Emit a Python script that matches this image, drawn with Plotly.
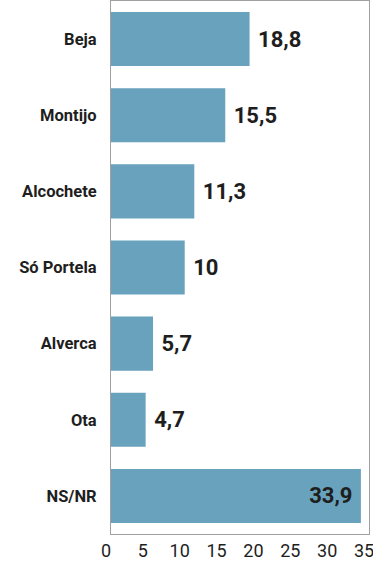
import plotly.graph_objects as go

categories = ["Beja", "Montijo", "Alcochete", "Só Portela", "Alverca", "Ota", "NS/NR"]
values = [18.8, 15.5, 11.3, 10, 5.7, 4.7, 33.9]
tick_vals = [0, 5, 10, 15, 20, 25, 30, 35]

def fmt(v):
    s = f"{v:.1f}".replace(".", ",")
    return s[:-2] if s.endswith(",0") else s

labels = [fmt(v) for v in values]
positions = ["inside" if v > 30 else "outside" for v in values]
NB = "\u00a0"
texts = [(l + NB) if p == "inside" else (NB + l) for l, p in zip(labels, positions)]

FONT = "Roboto, sans-serif"

fig = go.Figure(go.Bar(
    x=values,
    y=categories,
    orientation="h",
    marker=dict(color="#68a2bd", line=dict(width=0)),
    width=0.71,
    text=texts,
    textposition=positions,
    insidetextanchor="end",
    textfont=dict(family=FONT, size=22, color="#1e1e1e", weight="bold"),
    cliponaxis=False,
    hoverinfo="skip",
))

fig.update_layout(
    width=373,
    height=561,
    margin=dict(l=111, r=4, t=1, b=27),
    paper_bgcolor="white",
    plot_bgcolor="white",
    showlegend=False,
    uniformtext=dict(mode=False),
)
fig.update_xaxes(
    range=[0, 35],
    tickvals=tick_vals,
    ticktext=[str(t) for t in tick_vals],
    showgrid=False,
    zeroline=False,
    showline=True,
    mirror=True,
    linecolor="#a0a0a0",
    linewidth=1,
    ticks="",
    ticklabelshift=-5,
    ticklabeloverflow="allow",
    automargin=False,
    tickfont=dict(family=FONT, size=18, color="#1e1e1e"),
)
fig.update_yaxes(
    autorange="reversed",
    showgrid=False,
    zeroline=False,
    showline=True,
    mirror=True,
    linecolor="#a0a0a0",
    linewidth=1,
    ticks="outside",
    ticklen=10,
    tickcolor="rgba(0,0,0,0)",
    automargin=False,
    tickfont=dict(family=FONT, size=16.5, color="#1e1e1e", weight="bold"),
)

fig.write_html(
    "out.html",
    config={"displayModeBar": False},
    post_script="document.body.style.margin='0';document.body.style.overflow='hidden';",
)
